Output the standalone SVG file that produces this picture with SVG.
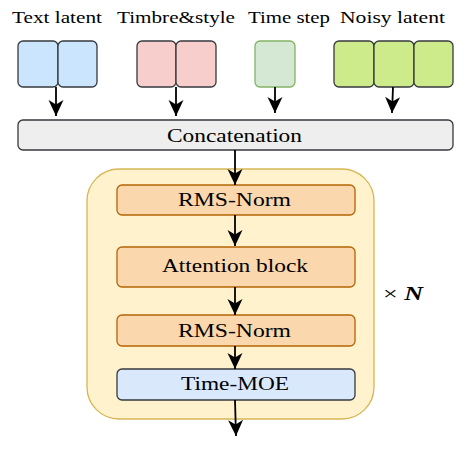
<svg xmlns="http://www.w3.org/2000/svg" width="469" height="461" viewBox="0 0 469 461">
<defs>
<marker id="arr" markerWidth="17" markerHeight="16" viewBox="0 0 17 16" refX="16" refY="8" orient="auto" markerUnits="userSpaceOnUse">
<path d="M0,0.5 L16,8 L0,15.5 L4.5,8 Z" fill="#000"/>
</marker>
</defs>
<style>
text{fill:#000;text-anchor:middle}
.lbl{font-size:17px}
.node{font-size:19px}
.cell{stroke:#36393d;stroke-width:1.3}
.conn{stroke:#000;stroke-width:1.8;fill:none;marker-end:url(#arr)}
</style>
<rect width="469" height="461" fill="#fff"/>
<g id="text-latent">
<rect class="cell" x="18" y="41" width="40" height="46" rx="5" fill="#cce5ff"/>
<rect class="cell" x="58" y="41" width="39" height="46" rx="5" fill="#cce5ff"/>
<text class="lbl" font-family="Liberation Serif, serif" x="57" y="23" textLength="90" lengthAdjust="spacingAndGlyphs">Text latent</text>
</g>
<g id="timbre-style">
<rect class="cell" x="137" y="41" width="39" height="46" rx="5" fill="#f8cecc"/>
<rect class="cell" x="176" y="41" width="40" height="46" rx="5" fill="#f8cecc"/>
<text class="lbl" font-family="Liberation Serif, serif" x="176" y="23" textLength="118" lengthAdjust="spacingAndGlyphs">Timbre&amp;style</text>
</g>
<g id="time-step">
<rect x="255" y="41" width="40" height="46" rx="5" fill="#d5e8d4" stroke="#82b366" stroke-width="1.3"/>
<text class="lbl" font-family="Liberation Serif, serif" x="289" y="23" textLength="82" lengthAdjust="spacingAndGlyphs">Time step</text>
</g>
<g id="noisy-latent">
<rect class="cell" x="334" y="41" width="40" height="46" rx="5" fill="#cdeb8b"/>
<rect class="cell" x="374" y="41" width="40" height="46" rx="5" fill="#cdeb8b"/>
<rect class="cell" x="414" y="41" width="39" height="46" rx="5" fill="#cdeb8b"/>
<text class="lbl" font-family="Liberation Serif, serif" x="392.5" y="23" textLength="105" lengthAdjust="spacingAndGlyphs">Noisy latent</text>
</g>
<g id="concatenation">
<rect x="18" y="120" width="435" height="30" rx="5" fill="#eeeeee" stroke="#36393d" stroke-width="1.3"/>
<text class="node" font-family="Liberation Serif, serif" x="234.5" y="142" textLength="135" lengthAdjust="spacingAndGlyphs">Concatenation</text>
</g>
<g id="block">
<rect x="87" y="169" width="287" height="250" rx="32" fill="#fff2cc" stroke="#d6b656" stroke-width="1.3"/>
<text font-family="Liberation Serif, serif" x="403" y="300" style="font-size:19px" textLength="40" lengthAdjust="spacingAndGlyphs">×<tspan font-style="italic" font-weight="bold"> N</tspan></text>
</g>
<g id="rms-norm-1">
<rect x="117" y="185" width="238" height="30" rx="5" fill="#fad7ac" stroke="#b46504" stroke-width="1.3"/>
<text class="node" font-family="Liberation Serif, serif" x="234.5" y="206" textLength="113" lengthAdjust="spacingAndGlyphs">RMS-Norm</text>
</g>
<g id="attention-block">
<rect x="117" y="247" width="238" height="40" rx="5" fill="#fad7ac" stroke="#b46504" stroke-width="1.3"/>
<text class="node" font-family="Liberation Serif, serif" x="235" y="272" textLength="146" lengthAdjust="spacingAndGlyphs">Attention block</text>
</g>
<g id="rms-norm-2">
<rect x="117" y="315" width="238" height="31" rx="5" fill="#fad7ac" stroke="#b46504" stroke-width="1.3"/>
<text class="node" font-family="Liberation Serif, serif" x="234.5" y="337" textLength="113" lengthAdjust="spacingAndGlyphs">RMS-Norm</text>
</g>
<g id="time-moe">
<rect x="117" y="369" width="238" height="31" rx="5" fill="#dae8fc" stroke="#36393d" stroke-width="1.3"/>
<text class="node" font-family="Liberation Serif, serif" x="235" y="390" textLength="108" lengthAdjust="spacingAndGlyphs">Time-MOE</text>
</g>
<g id="connectors">
<line class="conn" x1="56" y1="87" x2="56" y2="116"/>
<line class="conn" x1="176" y1="87" x2="176" y2="116"/>
<line class="conn" x1="275" y1="87" x2="275" y2="113"/>
<line class="conn" x1="393" y1="87" x2="392" y2="113"/>
<line class="conn" x1="235" y1="150" x2="235" y2="185"/>
<line class="conn" x1="235" y1="215" x2="235" y2="246"/>
<line class="conn" x1="235" y1="287" x2="235" y2="315"/>
<line class="conn" x1="235" y1="346" x2="235" y2="369"/>
<line class="conn" x1="235" y1="400" x2="236" y2="436"/>
</g>
</svg>
